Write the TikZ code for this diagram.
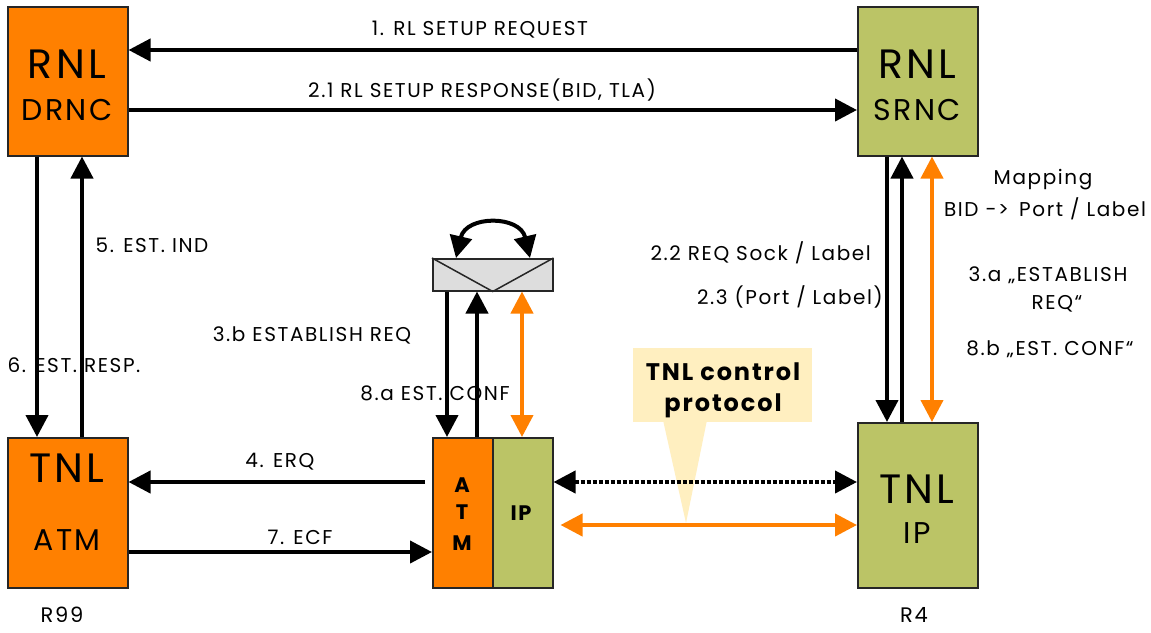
\documentclass[tikz,border=0pt]{standalone}
\usepackage{fontspec}
\setmainfont[LetterSpace=8]{Poppins}
\usetikzlibrary{arrows.meta,calc}
\definecolor{orng}{HTML}{FF8000}
\definecolor{olv}{HTML}{BBC466}
\definecolor{swgray}{HTML}{DDDDDD}
\definecolor{callbg}{HTML}{FFEFC0}
\begin{document}
\begin{tikzpicture}[x=1pt,y=-1pt,
  box/.style={draw=black!85, line width=1.5pt, inner sep=0pt, anchor=north west},
  big/.style={font=\fontsize{41}{46}\selectfont, inner sep=0pt},
  mid/.style={font=\fontsize{30}{34}\selectfont, inner sep=0pt},
  lbl/.style={font=\fontsize{20}{23}\selectfont, inner sep=0pt},
  bl/.style={font=\bfseries\fontsize{21}{24}\selectfont, inner sep=0pt},
  arr/.style={line width=4pt, -{Triangle[length=22pt,width=22pt]}},
  darr/.style={line width=4pt, {Triangle[length=22pt,width=22pt]}-{Triangle[length=22pt,width=22pt]}},
]
\useasboundingbox (0,0) rectangle (1151,632);
\fill[white] (0,0) rectangle (1151,632);

% boxes
\node[box, fill=orng, minimum width=120pt, minimum height=149pt] (drnc) at (7,6) {};
\node[box, fill=olv, minimum width=120pt, minimum height=149pt] (srnc) at (857,6) {};
\node[box, fill=orng, minimum width=120pt, minimum height=150pt] (tatm) at (7,437) {};
\node[box, fill=olv, minimum width=120pt, minimum height=165pt] (tip) at (857,422) {};
\node[box, fill=orng, minimum width=60pt, minimum height=150pt] (atm) at (432,437) {};
\node[box, fill=olv, minimum width=60pt, minimum height=150pt] (ip) at (492,437) {};
\node[box, fill=swgray, minimum width=120pt, minimum height=32pt] (sw) at (432,258) {};
\draw[line width=1.5pt, black!85] (sw.north west) -- (sw.south) -- (sw.north east);

% box texts
\node[big] (t1) at (67,64) {RNL};
\node[mid] (t2) at (67,110) {DRNC};
\node[big] (t3) at (917,64) {RNL};
\node[mid] (t4) at (917,110) {SRNC};
\node[big] (t5) at (67,468) {TNL};
\node[mid] (t6) at (67,540) {ATM};
\node[big] (t7) at (917,489) {TNL};
\node[mid] (t8) at (917,533) {IP};
\node[bl] (a1) at (462,485) {A};
\node[bl] (a2) at (462,512) {T};
\node[bl] (a3) at (462,543) {M};
\node[bl] (ipt) at (521,513) {IP};

% callout
\fill[callbg] (633,348) rectangle (812,422);
\fill[callbg] (663,420) -- (707,420) -- (686,523) -- cycle;
\node[font=\bfseries\fontsize{24}{27}\selectfont, inner sep=0pt] (c1) at (723,372) {TNL control};
\node[font=\bfseries\fontsize{24}{27}\selectfont, inner sep=0pt] (c2) at (723,406) {protocol};

% horizontal arrows top
\draw[arr] (srnc.west |- 0,50) -- (drnc.east |- 0,50);
\draw[arr] (drnc.east |- 0,110) -- (srnc.west |- 0,110);
\node[lbl] (l1) at (480,30) {1. RL SETUP REQUEST};
\node[lbl] (l2) at (482,90) {2.1 RL SETUP RESPONSE(BID, TLA)};

% left verticals
\draw[arr] (drnc.south -| 37,0) -- (tatm.north -| 37,0);
\draw[arr] (tatm.north -| 82,0) -- (drnc.south -| 82,0);
\node[lbl] (l5) at (152,245) {5. EST. IND};
\node[lbl] (l6) at (74,365) {6. EST. RESP.};

% switch verticals
\draw[arr] (sw.south -| 447,0) -- (atm.north -| 447,0);
\draw[arr] (atm.north -| 477,0) -- (sw.south -| 477,0);
\draw[darr, orng] (sw.south -| 522,0) -- (ip.north -| 522,0);
\coordinate (cl) at (456,258);
\coordinate (cr) at (530,258);
\draw[darr] (cl) .. controls (466,215) and (520,215) .. (cr);
\node[lbl] (l3b) at (312,335) {3.b ESTABLISH REQ};
\node[lbl] (l8a) at (435,393) {8.a EST. CONF};

% right verticals
\draw[arr] (srnc.south -| 887,0) -- (tip.north -| 887,0);
\draw[arr] (tip.north -| 902,0) -- (srnc.south -| 902,0);
\draw[darr, orng] (srnc.south -| 932,0) -- (tip.north -| 932,0);
\node[lbl, anchor=east] (l22) at (871,253) {2.2 REQ Sock / Label};
\node[lbl, anchor=east] (l23) at (883,297) {2.3 (Port / Label)};
\node[lbl] (m1) at (1043,180) {Mapping};
\node[lbl] (m2) at (1045,209) {BID ->\, Port / Label};
\node[lbl] (l3a) at (1048,275) {3.a „ESTABLISH};
\node[lbl] (l3a2) at (1057,304) {REQ“};
\node[lbl] (l8b) at (1050,349) {8.b „EST. CONF“};

% bottom horizontals
\draw[arr] (atm.west |- 0,482) ++(-7,0) coordinate (e4) -- (tatm.east |- 0,482);
\draw[arr] (tatm.east |- 0,552) -- (atm.west |- 0,552);
\node[lbl] (l4) at (280,462) {4. ERQ};
\node[lbl] (l7) at (300,537) {7. ECF};
\draw[line width=4pt, dotted, {Triangle[length=22pt,width=22pt]}-{Triangle[length=22pt,width=22pt]}] (ip.east |- 0,482) -- (tip.west |- 0,482);
\draw[darr, orng] (ip.east |- 0,525) ++(7,0) coordinate (e5) -- (tip.west |- 0,525);

% releases
\node[font=\fontsize{21}{24}\selectfont, inner sep=0pt] (r99) at (62,615) {R99};
\node[font=\fontsize{21}{24}\selectfont, inner sep=0pt] (r4) at (914,615) {R4};
\end{tikzpicture}
\end{document}
